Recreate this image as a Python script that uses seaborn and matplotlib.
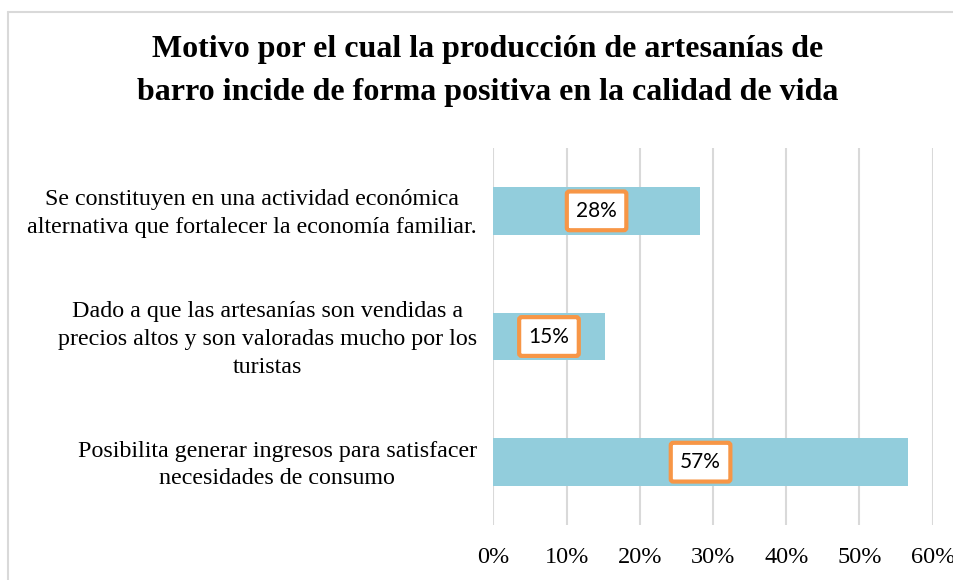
import matplotlib
matplotlib.use("Agg")
import matplotlib.pyplot as plt
import matplotlib.transforms as mtransforms
import seaborn as sns
import pandas as pd
from matplotlib.lines import Line2D
from matplotlib.ticker import FuncFormatter, MultipleLocator

categories = [
    "Se constituyen en una actividad económica\nalternativa que fortalecer la economía familiar.",
    "Dado a que las artesanías son vendidas a\nprecios altos y son valoradas mucho por los\nturistas",
    "Posibilita generar ingresos para satisfacer\nnecesidades de consumo",
]
values = [28.2, 15.2, 56.6]
value_labels = ["28%", "15%", "57%"]
title = "Motivo por el cual la producción de artesanías de\nbarro incide de forma positiva en la calidad de vida"

df = pd.DataFrame({"cat": categories, "val": values})

sns.set_theme(style="white")
plt.rcParams["font.family"] = ["Liberation Serif", "DejaVu Serif"]

fig = plt.figure(figsize=(9.54, 5.8), dpi=100)
ax = fig.add_axes([0.5171, 0.0948, 0.4606, 0.65])

sns.barplot(data=df, y="cat", x="val", orient="h", color="#92CDDC",
            saturation=1, width=0.38, ax=ax, edgecolor="none")

ax.set_xlim(0, 60)
ax.xaxis.set_major_locator(MultipleLocator(10))
ax.xaxis.set_major_formatter(FuncFormatter(lambda v, p: f"{v:.0f}%"))
ax.set_xlabel("")
ax.set_ylabel("")
ax.grid(axis="x", color="#d9d9d9", linewidth=1.5)
ax.grid(axis="y", visible=False)
ax.set_axisbelow(True)
for s in ax.spines.values():
    s.set_visible(False)
ax.tick_params(axis="x", length=0, pad=16, labelsize=17.5, labelcolor="#000000")
ax.tick_params(axis="y", length=0, pad=12)
shift = mtransforms.ScaledTranslation(0, 3 / 100, fig.dpi_scale_trans)
for lab in ax.get_yticklabels():
    lab.set_fontsize(17.3)
    lab.set_color("#000000")
    lab.set_multialignment("center")
    lab.set_linespacing(1.42)
    lab.set_transform(lab.get_transform() + shift)

for i, (v, t) in enumerate(zip(values, value_labels)):
    ax.text(v / 2, i, t, ha="center", va="center", fontsize=15,
            family=["Lato", "DejaVu Sans"], color="#000000",
            bbox=dict(boxstyle="round,pad=0.45,rounding_size=0.12",
                      facecolor="white", edgecolor="#F79646", linewidth=3))

fig.text(0.511, 0.8776, title, ha="center", va="center", fontsize=23,
         fontweight="bold", linespacing=1.62, color="#000000")

# chart border (top and left visible)
fig.add_artist(Line2D([8 / 954, 1], [1 - 12 / 580, 1 - 12 / 580],
                      transform=fig.transFigure, color="#d9d9d9", linewidth=1.5))
fig.add_artist(Line2D([8 / 954, 8 / 954], [0, 1 - 12 / 580],
                      transform=fig.transFigure, color="#d9d9d9", linewidth=1.5))

fig.savefig("out.png", dpi=100)
